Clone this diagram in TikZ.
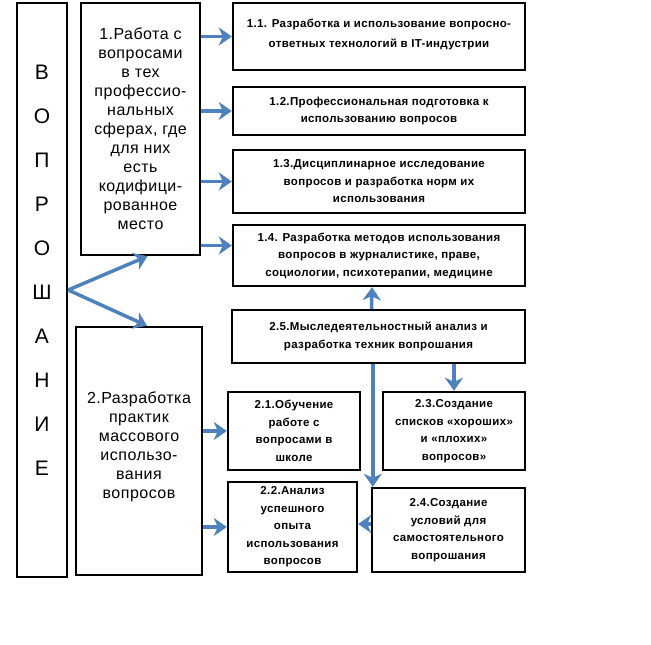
\documentclass[tikz,border=0pt]{standalone}
\usepackage{fontspec}
\setmainfont{Liberation Sans}
\usetikzlibrary{arrows.meta}
\definecolor{arrblue}{RGB}{79,129,189}

\begin{document}
\begin{tikzpicture}[x=1pt,y=-1pt,
    box/.style={draw,line width=2.4pt,align=center,inner sep=2pt},
    bigtxt/.style={font=\addfontfeatures{LetterSpace=3}\fontsize{16}{19}\selectfont},
    smalltxt/.style={font=\addfontfeatures{LetterSpace=3}\bfseries\fontsize{11.5}{17.5}\selectfont},
    arr/.style={-{Stealth[length=13pt,width=18pt,inset=4pt]},line width=3.5pt,arrblue}]
    \useasboundingbox (0,0) rectangle (651,645);
    \fill[white] (0,0) rectangle (651,645);
    % left column
    \node[box,minimum width=50,minimum height=574] (vopr) at (42,290) {};
    \node[align=center,font=\fontsize{21}{44}\selectfont] (voprtxt) at (42,270)
      {В\\О\\П\\Р\\О\\Ш\\А\\Н\\И\\Е};
    \node[box,bigtxt,minimum width=119,minimum height=252] (b1) at (140.5,129)
      {1.Работа с\\вопросами\\в тех\\профессио-\\нальных\\сферах, где\\для них\\есть\\кодифици-\\рованное\\место};
    \node[box,bigtxt,minimum width=126,minimum height=248] (b2) at (139,451)
      {2.Разработка\\практик\\массового\\использо-\\вания\\вопросов\\[-7pt]};
    % right column
    \node[box,smalltxt,minimum width=292,minimum height=67] (b11) at (379,36.5)
      {1.1. Разработка и использование вопросно-\\[2pt]ответных технологий в IT-индустрии\\[-11pt]};
    \node[box,smalltxt,minimum width=292,minimum height=48] (b12) at (379,111)
      {1.2.Профессиональная подготовка к\\использованию вопросов};
    \node[box,smalltxt,minimum width=292,minimum height=63] (b13) at (379,181.5)
      {1.3.Дисциплинарное исследование\\вопросов и разработка норм их\\использования};
    \node[box,smalltxt,minimum width=292,minimum height=61] (b14) at (379,255.5)
      {1.4. Разработка методов использования\\вопросов в журналистике, праве,\\социологии, психотерапии, медицине};
    \node[box,smalltxt,minimum width=293,minimum height=53] (b25) at (378.5,336.5)
      {2.5.Мыследеятельностный анализ и\\разработка техник вопрошания};
    \node[box,smalltxt,minimum width=132,minimum height=78] (b21) at (294,431)
      {2.1.Обучение\\работе с\\вопросами в\\школе};
    \node[box,smalltxt,minimum width=142,minimum height=78] (b23) at (454,431)
      {2.3.Создание\\списков «хороших»\\и «плохих»\\вопросов»};
    \node[box,smalltxt,minimum width=129,minimum height=90] (b22) at (292.5,527)
      {2.2.Анализ\\успешного\\опыта\\использования\\вопросов};
    \node[box,smalltxt,minimum width=153,minimum height=84] (b24) at (448.5,530)
      {2.4.Создание\\условий для\\самостоятельного\\вопрошания};
    % arrows
    \draw[arr] (vopr.east) -- ([xshift=7pt]b1.south);
    \draw[arr] (vopr.east) -- ([xshift=8pt]b2.north);
    \draw[arr] (b1.east |- b11.west) -- (b11.west);
    \draw[arr] (b1.east |- b12.west) -- (b12.west);
    \draw[arr] (b1.east |- b13.west) -- (b13.west);
    \draw[arr] ([yshift=10pt]b1.east |- b14.west) -- ([yshift=10pt]b14.west);
    \draw[arr] (b2.east |- b21.west) -- (b21.west);
    \draw[arr] (b2.east |- b22.west) -- (b22.west);
    \draw[arr] ([xshift=-7pt]b25.north) -- ([xshift=-7pt]b14.south);
    \draw[arr] (b25.south -| b23.north) -- (b23.north);
    \draw[arr] ([xshift=2pt]b25.south -| b24.north west) -- ([xshift=2pt]b24.north west);
    \draw[arr] ([yshift=6pt]b24.west) -- ([yshift=6pt]b24.west -| b22.east);
\end{tikzpicture}
\end{document}
